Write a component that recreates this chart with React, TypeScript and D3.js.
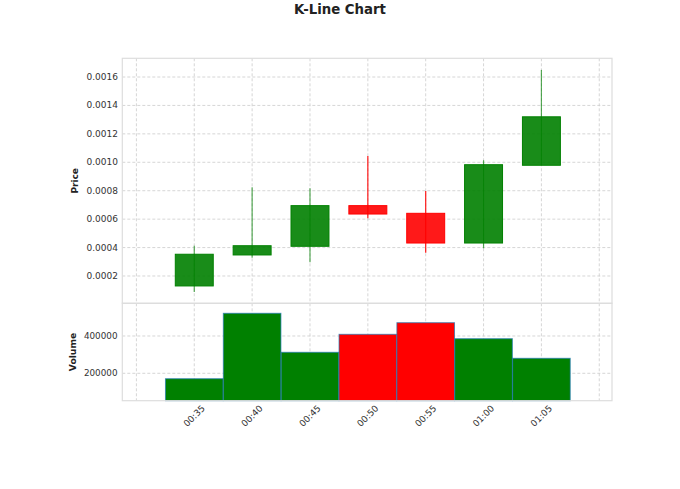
import React from 'react';
import * as d3 from 'd3';

const times = ['00:35', '00:40', '00:45', '00:50', '00:55', '01:00', '01:05'];
const opens = [0.00013, 0.000348, 0.000409, 0.000695, 0.000641, 0.000432, 0.000979];
const closes = [0.000353, 0.000413, 0.000695, 0.000636, 0.000432, 0.000983, 0.00132];
const highs = [0.000413, 0.000824, 0.000817, 0.001044, 0.000798, 0.001014, 0.00165];
const lows = [0.0000874, 0.000329, 0.000296, 0.000606, 0.000364, 0.000395, 0.000979];
const volumes = [171000, 521700, 312600, 409000, 471300, 385500, 280400];
const priceTicks = [0.0002, 0.0004, 0.0006, 0.0008, 0.001, 0.0012, 0.0014, 0.0016];
const volumeTicks = [200000, 400000];
const gridMinutes = [30, 35, 40, 45, 50, 55, 60, 65, 70];

const W = 680;
const H = 489;
const left = 122.3;
const right = 612;
const priceTop = 58.3;
const split = 303.3;
const volBottom = 400.7;

const toMin = (t: string) => {
  const [h, m] = t.split(':').map(Number);
  return h * 60 + m;
};

const App: React.FC = () => {
  const x = d3.scaleLinear().domain([28.78, 71.1]).range([left, right]);
  const yP = d3.scaleLinear().domain([0.0000079, 0.0017316]).range([split, priceTop]);
  const yV = d3.scaleLinear().domain([53100, 575300]).range([volBottom, split]);

  const candles = times.map((t, i) => ({
    t,
    m: toMin(t),
    o: opens[i],
    c: closes[i],
    h: highs[i],
    l: lows[i],
    v: volumes[i],
    up: closes[i] >= opens[i],
  }));

  const bodyW = x(3.28) - x(0);
  const gridStyle = { stroke: '#cccccc', strokeWidth: 0.8, strokeDasharray: '3,2' };
  const font = 'DejaVu Sans, sans-serif';

  return (
    <div style={{ position: 'absolute', left: 0, top: 0 }}>
      <svg width={W} height={H} style={{ display: 'block', background: '#fff' }}>
        <text x={340} y={9} textAnchor="middle" dominantBaseline="central"
          fontFamily={font} fontWeight="bold" fontSize={13.3} fill="#222">K-Line Chart</text>

        {/* grid */}
        {gridMinutes.map(m => (
          <g key={m}>
            <line x1={x(m)} x2={x(m)} y1={priceTop} y2={split} {...gridStyle} />
            <line x1={x(m)} x2={x(m)} y1={split} y2={volBottom} {...gridStyle} />
          </g>
        ))}
        {priceTicks.map(v => (
          <line key={v} x1={left} x2={right} y1={yP(v)} y2={yP(v)} {...gridStyle} />
        ))}
        {volumeTicks.map(v => (
          <line key={v} x1={left} x2={right} y1={yV(v)} y2={yV(v)} {...gridStyle} />
        ))}

        {/* candles */}
        {candles.map(d => {
          const col = d.up ? '#008000' : '#ff0000';
          const top = yP(Math.max(d.o, d.c));
          const bot = yP(Math.min(d.o, d.c));
          return (
            <g key={d.t}>
              <line x1={x(d.m)} x2={x(d.m)} y1={yP(d.h)} y2={yP(d.l)}
                stroke={col} strokeWidth={1.2} strokeOpacity={d.up ? 0.65 : 0.9} />
              <rect x={x(d.m) - bodyW / 2} y={top} width={bodyW} height={Math.max(bot - top, 1)}
                fill={col} fillOpacity={0.9} stroke={col} strokeWidth={1} />
            </g>
          );
        })}

        {/* volume */}
        {candles.map(d => (
          <rect key={d.t} x={x(d.m - 2.49)} width={x(d.m + 2.49) - x(d.m - 2.49)}
            y={yV(d.v)} height={volBottom - yV(d.v)}
            fill={d.up ? '#008000' : '#ff0000'} stroke="#1f77b4" strokeOpacity={0.7} strokeWidth={1} />
        ))}

        {/* spines */}
        <rect x={left} y={priceTop} width={right - left} height={split - priceTop}
          fill="none" stroke="#dddddd" strokeWidth={1.2} />
        <rect x={left} y={split} width={right - left} height={volBottom - split}
          fill="none" stroke="#dddddd" strokeWidth={1.2} />

        {/* tick labels */}
        {priceTicks.map(v => (
          <text key={v} x={118} y={yP(v)} textAnchor="end" dominantBaseline="central"
            fontFamily={font} fontSize={9} fill="#333">{v.toFixed(4)}</text>
        ))}
        {volumeTicks.map(v => (
          <text key={v} x={117.5} y={yV(v)} textAnchor="end" dominantBaseline="central"
            fontFamily={font} fontSize={8.8} fill="#333">{v}</text>
        ))}
        {candles.map(d => (
          <text key={d.t} transform={`translate(${x(d.m)},416) rotate(-45)`} textAnchor="middle"
            dominantBaseline="central" fontFamily={font} fontSize={9} fill="#333">{d.t}</text>
        ))}

        <text transform={`translate(75,${(priceTop + split) / 2}) rotate(-90)`} textAnchor="middle"
          dominantBaseline="central" fontFamily={font} fontWeight="bold" fontSize={9} fill="#222">Price</text>
        <text transform={`translate(72.7,${(split + volBottom) / 2}) rotate(-90)`} textAnchor="middle"
          dominantBaseline="central" fontFamily={font} fontWeight="bold" fontSize={9.2} fill="#222">Volume</text>
      </svg>
    </div>
  );
};

export default App;
